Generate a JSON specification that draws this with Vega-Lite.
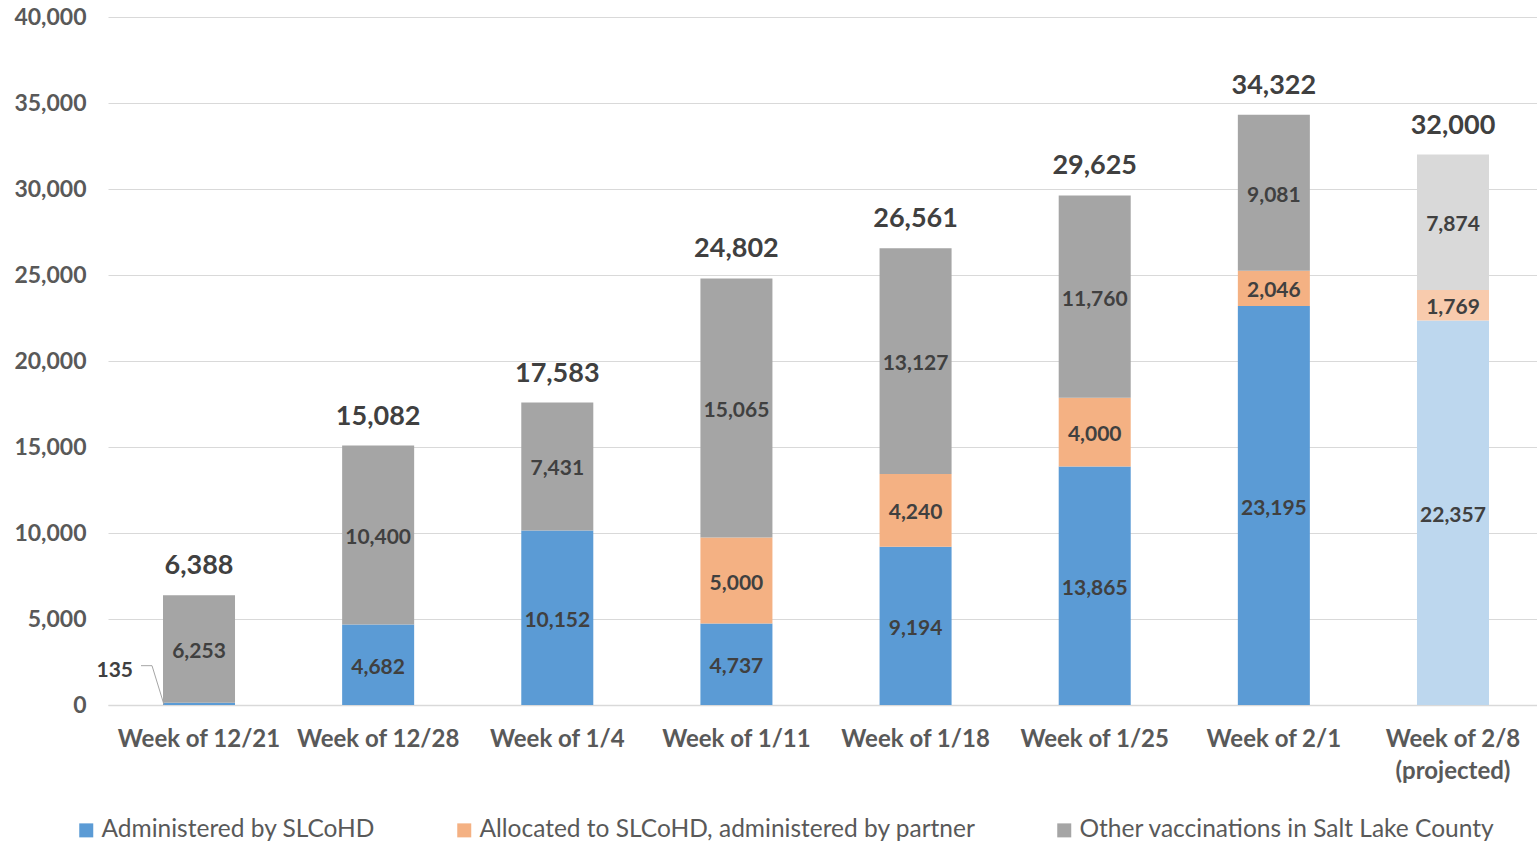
{
  "$schema": "https://vega.github.io/schema/vega-lite/v6.json",
  "width": 1436,
  "height": 688,
  "autosize": {"type": "none"},
  "padding": {"left": 108, "top": 17, "right": 0, "bottom": 138},
  "background": "#ffffff",
  "config": {
    "view": {"stroke": null},
    "font": "Lato",
    "axisY": {
      "domain": false, "ticks": false, "grid": true,
      "gridColor": "#D9D9D9", "gridWidth": 1.2,
      "labelFont": "Lato", "labelFontSize": 23, "labelFontWeight": "bold", "labelColor": "#595959",
      "labelPadding": 22
    }
  },
  "data": {"values": [
    {"week": "Week of 12/21", "series": "Administered by SLCoHD", "cat": "Administered by SLCoHD", "ord": 1, "value": 135},
    {"week": "Week of 12/21", "series": "Other vaccinations in Salt Lake County", "cat": "Other vaccinations in Salt Lake County", "ord": 3, "value": 6253},
    {"week": "Week of 12/28", "series": "Administered by SLCoHD", "cat": "Administered by SLCoHD", "ord": 1, "value": 4682},
    {"week": "Week of 12/28", "series": "Other vaccinations in Salt Lake County", "cat": "Other vaccinations in Salt Lake County", "ord": 3, "value": 10400},
    {"week": "Week of 1/4", "series": "Administered by SLCoHD", "cat": "Administered by SLCoHD", "ord": 1, "value": 10152},
    {"week": "Week of 1/4", "series": "Other vaccinations in Salt Lake County", "cat": "Other vaccinations in Salt Lake County", "ord": 3, "value": 7431},
    {"week": "Week of 1/11", "series": "Administered by SLCoHD", "cat": "Administered by SLCoHD", "ord": 1, "value": 4737},
    {"week": "Week of 1/11", "series": "Allocated to SLCoHD, administered by partner", "cat": "Allocated to SLCoHD, administered by partner", "ord": 2, "value": 5000},
    {"week": "Week of 1/11", "series": "Other vaccinations in Salt Lake County", "cat": "Other vaccinations in Salt Lake County", "ord": 3, "value": 15065},
    {"week": "Week of 1/18", "series": "Administered by SLCoHD", "cat": "Administered by SLCoHD", "ord": 1, "value": 9194},
    {"week": "Week of 1/18", "series": "Allocated to SLCoHD, administered by partner", "cat": "Allocated to SLCoHD, administered by partner", "ord": 2, "value": 4240},
    {"week": "Week of 1/18", "series": "Other vaccinations in Salt Lake County", "cat": "Other vaccinations in Salt Lake County", "ord": 3, "value": 13127},
    {"week": "Week of 1/25", "series": "Administered by SLCoHD", "cat": "Administered by SLCoHD", "ord": 1, "value": 13865},
    {"week": "Week of 1/25", "series": "Allocated to SLCoHD, administered by partner", "cat": "Allocated to SLCoHD, administered by partner", "ord": 2, "value": 4000},
    {"week": "Week of 1/25", "series": "Other vaccinations in Salt Lake County", "cat": "Other vaccinations in Salt Lake County", "ord": 3, "value": 11760},
    {"week": "Week of 2/1", "series": "Administered by SLCoHD", "cat": "Administered by SLCoHD", "ord": 1, "value": 23195},
    {"week": "Week of 2/1", "series": "Allocated to SLCoHD, administered by partner", "cat": "Allocated to SLCoHD, administered by partner", "ord": 2, "value": 2046},
    {"week": "Week of 2/1", "series": "Other vaccinations in Salt Lake County", "cat": "Other vaccinations in Salt Lake County", "ord": 3, "value": 9081},
    {"week": "Week of 2/8 (projected)", "series": "Administered by SLCoHD", "cat": "Administered by SLCoHD (projected)", "ord": 1, "value": 22357},
    {"week": "Week of 2/8 (projected)", "series": "Allocated to SLCoHD, administered by partner", "cat": "Allocated to SLCoHD, administered by partner (projected)", "ord": 2, "value": 1769},
    {"week": "Week of 2/8 (projected)", "series": "Other vaccinations in Salt Lake County", "cat": "Other vaccinations in Salt Lake County (projected)", "ord": 3, "value": 7874}
  ]},
  "encoding": {
    "x": {
      "field": "week", "type": "nominal", "sort": null,
      "scale": {"paddingInner": 0.598, "paddingOuter": 0.307},
      "axis": {
        "title": null, "labelAngle": 0, "ticks": false,
        "domainColor": "#D9D9D9", "domainWidth": 1.5,
        "labelFont": "Lato", "labelFontSize": 24, "labelFontWeight": "bold", "labelColor": "#595959",
        "labelPadding": 22, "labelBaseline": "top", "labelLineHeight": 32,
        "labelExpr": "datum.label == 'Week of 2/8 (projected)' ? ['Week of 2/8', '(projected)'] : datum.label"
      }
    }
  },
  "layer": [
    {
      "mark": {"type": "bar"},
      "encoding": {
        "y": {
          "field": "value", "type": "quantitative", "stack": "zero",
          "scale": {"domain": [0, 40000], "nice": false},
          "axis": {"title": null, "format": ",d", "labelFontWeight": "bold", "labelFontSize": 23, "values": [0, 5000, 10000, 15000, 20000, 25000, 30000, 35000, 40000]}
        },
        "order": {"field": "ord", "type": "quantitative"},
        "color": {
          "field": "cat", "type": "nominal",
          "scale": {
            "domain": ["Administered by SLCoHD", "Allocated to SLCoHD, administered by partner", "Other vaccinations in Salt Lake County", "Administered by SLCoHD (projected)", "Allocated to SLCoHD, administered by partner (projected)", "Other vaccinations in Salt Lake County (projected)"],
            "range": ["#5B9BD5", "#F4B183", "#A5A5A5", "#BDD7EE", "#F8CBAD", "#D9D9D9"]
          },
          "legend": {
            "values": ["Administered by SLCoHD", "Allocated to SLCoHD, administered by partner", "Other vaccinations in Salt Lake County"],
            "title": null, "orient": "none", "direction": "horizontal",
            "legendX": -34, "legendY": 801,
            "symbolType": "square", "symbolSize": 196, "symbolStrokeWidth": 0,
            "labelFont": "Lato", "labelFontSize": 24.5, "labelColor": "#595959", "labelLimit": 800,
            "labelOffset": 3, "columnPadding": 76
          }
        }
      }
    },
    {
      "transform": [
        {"stack": "value", "groupby": ["week"], "sort": [{"field": "ord"}], "as": ["y0", "y1"]},
        {"filter": "datum.value >= 1000"},
        {"calculate": "(datum.y0 + datum.y1) / 2", "as": "mid"}
      ],
      "mark": {"type": "text", "font": "Lato", "fontSize": 21, "fontWeight": "bold", "color": "#404040", "baseline": "middle", "dy": 3},
      "encoding": {
        "y": {"field": "mid", "type": "quantitative", "axis": {"title": null, "format": ",d", "labelFontWeight": "bold", "labelFontSize": 23, "values": [0, 5000, 10000, 15000, 20000, 25000, 30000, 35000, 40000]}},
        "text": {"field": "value", "type": "quantitative", "format": ","}
      }
    },
    {
      "transform": [{"aggregate": [{"op": "sum", "field": "value", "as": "total"}], "groupby": ["week"]}],
      "mark": {"type": "text", "font": "Lato", "fontSize": 27, "fontWeight": "bold", "color": "#404040", "baseline": "bottom", "dy": -15},
      "encoding": {
        "y": {"field": "total", "type": "quantitative", "axis": {"title": null, "format": ",d", "labelFontWeight": "bold", "labelFontSize": 23, "values": [0, 5000, 10000, 15000, 20000, 25000, 30000, 35000, 40000]}},
        "text": {"field": "total", "type": "quantitative", "format": ","}
      }
    },
    {
      "transform": [{"filter": "datum.value < 1000"}],
      "mark": {"type": "text", "font": "Lato", "fontSize": 21, "fontWeight": "bold", "color": "#404040", "baseline": "middle", "align": "right", "dx": -66, "dy": -32},
      "encoding": {
        "y": {"field": "value", "type": "quantitative", "axis": {"title": null, "format": ",d", "labelFontWeight": "bold", "labelFontSize": 23, "values": [0, 5000, 10000, 15000, 20000, 25000, 30000, 35000, 40000]}},
        "text": {"field": "value", "type": "quantitative", "format": ","}
      }
    },
    {
      "transform": [{"filter": "datum.value < 1000"}],
      "mark": {"type": "rule", "color": "#A5A5A5", "strokeWidth": 1, "xOffset": -58, "x2Offset": -47, "yOffset": -37, "y2Offset": -37},
      "encoding": {
        "x2": {"field": "week"},
        "y": {"field": "value", "type": "quantitative", "axis": {"title": null, "format": ",d", "labelFontWeight": "bold", "labelFontSize": 23, "values": [0, 5000, 10000, 15000, 20000, 25000, 30000, 35000, 40000]}},
        "y2": {"field": "value"}
      }
    },
    {
      "transform": [{"filter": "datum.value < 1000"}],
      "mark": {"type": "rule", "color": "#A5A5A5", "strokeWidth": 1, "xOffset": -47, "x2Offset": -35, "yOffset": -37, "y2Offset": 2},
      "encoding": {
        "x2": {"field": "week"},
        "y": {"field": "value", "type": "quantitative", "axis": {"title": null, "format": ",d", "labelFontWeight": "bold", "labelFontSize": 23, "values": [0, 5000, 10000, 15000, 20000, 25000, 30000, 35000, 40000]}},
        "y2": {"field": "value"}
      }
    }
  ]
}
